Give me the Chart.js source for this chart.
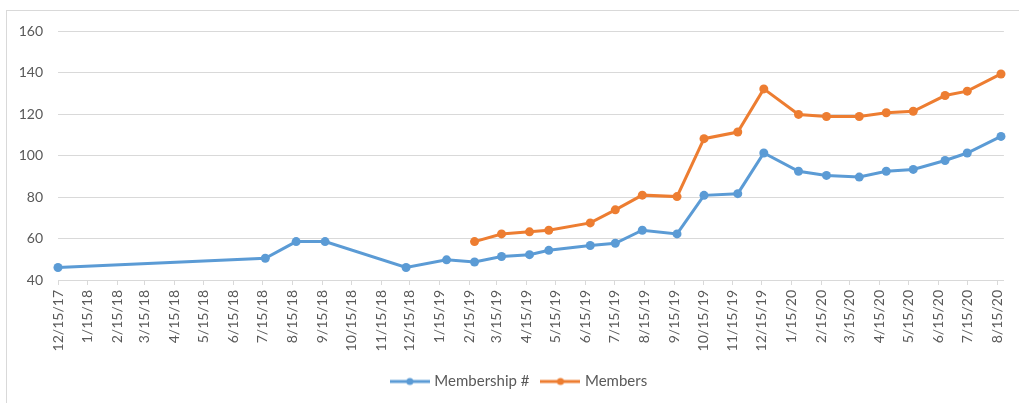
<!DOCTYPE html>
<html><head><meta charset="utf-8">
<script src="https://cdn.jsdelivr.net/npm/chart.js@4/dist/chart.umd.min.js"></script>
<style>html,body{margin:0;padding:0;background:#fff}#wrap{width:1019px;height:403px;position:relative}</style>
</head><body><div id="wrap"><canvas id="c"></canvas></div>
<script>
// Tick labels (monthly, on the 15th)
const tickLabels = ['12/15/17','1/15/18','2/15/18','3/15/18','4/15/18','5/15/18','6/15/18','7/15/18','8/15/18','9/15/18','10/15/18','11/15/18','12/15/18','1/15/19','2/15/19','3/15/19','4/15/19','5/15/19','6/15/19','7/15/19','8/15/19','9/15/19','10/15/19','11/15/19','12/15/19','1/15/20','2/15/20','3/15/20','4/15/20','5/15/20','6/15/20','7/15/20','8/15/20'];
const axisEndDate = '8/22/20';
// Observation dates
const pointDates = ['12/15/17','7/18/18','8/19/18','9/18/18','12/11/18','1/22/19','2/20/19','3/20/19','4/18/19','5/8/19','6/20/19','7/16/19','8/13/19','9/18/19','10/16/19','11/20/19','12/17/19','1/22/20','2/20/20','3/25/20','4/22/20','5/20/20','6/22/20','7/15/20','8/19/20'];
const membershipValues = [46,50.5,58.5,58.5,46,49.7,48.7,51.3,52.2,54.3,56.6,57.7,64,62.2,80.8,81.6,101.2,92.4,90.4,89.6,92.4,93.3,97.6,101.2,109.2];
const membersValues = [null,null,null,null,null,null,58.5,62.2,63.2,64,67.5,73.8,80.9,80.2,108.1,111.3,132.1,119.8,118.8,118.8,120.6,121.3,128.9,131,139.3];
const seriesNames = ['Membership #','Members'];
const yMin = 40, yMax = 160, yStep = 20;

const BLUE = '#5B9BD5', ORANGE = '#ED7D31', GRID = '#d9d9d9', TXT = '#595959';
function toDay(s){const [m,d,y]=s.split('/').map(Number);return Date.UTC(2000+y,m-1,d)/864e5;}
const base = toDay(tickLabels[0]);
const tickDays = tickLabels.map(s=>toDay(s)-base);
const axisMax = toDay(axisEndDate)-base;
const mk = vals => pointDates.map((d,i)=>({x:toDay(d)-base,y:vals[i]}));

function legendIcon(color){
  const c=document.createElement('canvas');c.width=40;c.height=10;
  const g=c.getContext('2d');g.strokeStyle=color;g.lineWidth=3;
  g.beginPath();g.moveTo(0,5);g.lineTo(40,5);g.stroke();
  g.fillStyle=color;g.beginPath();g.arc(20,5,3.5,0,Math.PI*2);g.fill();return c;
}
const icons=[legendIcon(BLUE),legendIcon(ORANGE)];

const frame={id:'frame',
  beforeDraw(ch){const g=ch.ctx;g.save();g.fillStyle='#fff';g.fillRect(0,0,ch.width,ch.height);
    g.strokeStyle=GRID;g.lineWidth=1;g.strokeRect(6.5,10.5,1100,600);g.restore();},
  afterLayout(ch){if(ch.legend){ch.legend.left+=15;ch.legend.right+=15;}}};

const ds=(label,vals,color)=>({label,data:mk(vals),borderColor:color,backgroundColor:color,pointBackgroundColor:color,
  pointBorderColor:color,borderWidth:3,pointRadius:4.5,pointBorderWidth:0,pointHoverRadius:4.5,tension:0,clip:false});

new Chart(document.getElementById('c'),{
  type:'line',
  data:{datasets:[ds(seriesNames[0],membershipValues,BLUE),ds(seriesNames[1],membersValues,ORANGE)]},
  options:{
    responsive:true,maintainAspectRatio:false,animation:false,
    layout:{padding:{top:31,right:9,bottom:4,left:0}},
    plugins:{
      tooltip:{enabled:false},
      legend:{position:'bottom',labels:{usePointStyle:true,pointStyleWidth:34,color:TXT,padding:14,
        font:{family:'Lato',size:15},
        generateLabels(ch){return Chart.defaults.plugins.legend.labels.generateLabels(ch).map((l,i)=>{l.pointStyle=icons[i];return l;});}}}
    },
    scales:{
      x:{type:'linear',min:0,max:axisMax,
        afterBuildTicks(s){s.ticks=tickDays.map(v=>({value:v}));},
        afterFit(s){s.height=80;},
        ticks:{autoSkip:false,maxRotation:90,minRotation:90,padding:5,color:TXT,font:{family:'Lato',size:14},
          callback:(v,i)=>tickLabels[i]},
        grid:{drawOnChartArea:false,drawTicks:true,tickLength:5,color:GRID},
        border:{color:GRID}},
      y:{min:yMin,max:yMax,
        afterFit(s){s.width=58;},
        ticks:{stepSize:yStep,padding:15,color:TXT,font:{family:'Lato',size:14}},
        grid:{color:GRID,drawTicks:false},
        border:{display:false}}
    }
  },
  plugins:[frame]
});
</script></body></html>
